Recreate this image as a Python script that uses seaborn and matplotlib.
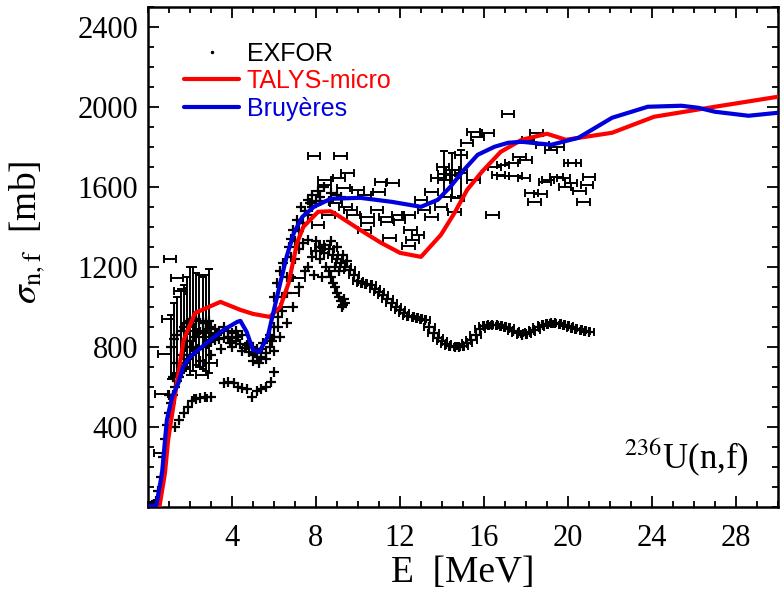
import matplotlib
matplotlib.use("Agg")
import matplotlib.pyplot as plt
from matplotlib.lines import Line2D
from matplotlib.ticker import MultipleLocator, FixedLocator
import numpy as np
import pandas as pd
import seaborn as sns

# ---------------- model curves ----------------
e_talys = [0.0, 0.55, 0.81, 0.96, 1.4, 1.7, 2.25, 3.45, 4.4, 5.0, 5.8, 6.3, 6.7, 7.1, 7.4,
           8.1, 8.7, 9.0, 10.1, 11.1, 12.0, 13.0, 13.95, 14.6, 15.2, 15.9, 16.8, 17.8,
           19.0, 19.9, 22.1, 24.1, 27.0, 30.0]
s_talys = [0, 5, 170, 335, 635, 835, 970, 1025, 985, 965, 950, 1000, 1120, 1320, 1400,
           1475, 1478, 1460, 1385, 1320, 1270, 1250, 1360, 1470, 1585, 1675, 1775, 1835,
           1865, 1835, 1870, 1950, 2000, 2050]

e_bruy = [0.0, 0.4, 0.67, 0.9, 1.15, 1.45, 1.67, 2.0, 2.8, 3.6, 4.25, 4.4, 4.7, 5.0, 5.3,
          5.7, 6.0, 6.3, 6.6, 6.95, 7.35, 7.9, 8.7, 10.1, 11.6, 13.0, 13.8, 14.4, 15.05,
          15.7, 16.5, 17.15, 17.8, 19.2, 20.5, 22.1, 23.8, 25.4, 26.2, 27.0, 28.6, 30.0]
s_bruy = [0, 10, 170, 435, 550, 620, 700, 750, 820, 885, 925, 930, 875, 785, 775,
          850, 985, 1120, 1250, 1370, 1450, 1500, 1540, 1545, 1525, 1500, 1535, 1600, 1685,
          1760, 1800, 1820, 1825, 1810, 1845, 1945, 2000, 2005, 1995, 1975, 1955, 1970]

# ---------------- EXFOR measurements ----------------
# dense low-energy cloud
e_lo1 = [0.0, 0.1, 0.2, 0.3, 0.4, 0.5, 0.6, 0.7, 0.8, 0.9, 1.0, 1.1, 1.2, 1.3, 1.4, 1.5,
         1.6, 1.7, 1.8, 1.9, 2.0, 2.2, 2.4, 2.6, 2.8, 3.0, 3.2, 3.4, 3.6, 3.8, 4.0, 4.2,
         4.4, 4.6, 4.8, 5.0, 5.2, 5.4, 5.6, 5.8, 6.0, 6.2, 6.4, 6.6, 6.8, 7.0, 7.2, 7.4, 7.6]
s_lo1 = [0, 5, 10, 15, 30, 80, 150, 250, 340, 410, 470, 520, 560, 600, 630, 650,
         680, 700, 720, 740, 760, 780, 790, 800, 815, 825, 835, 840, 845, 850, 845, 830,
         815, 795, 775, 760, 750, 750, 770, 800, 850, 900, 980, 1070, 1150, 1240, 1290, 1320, 1335]

e_lo2 = [1.0, 1.2, 1.4, 1.6, 1.8, 2.0, 2.2, 2.4, 2.6, 2.8, 3.0, 3.2, 3.4, 3.6, 3.8, 4.0,
         4.2, 4.5, 4.8, 5.0, 5.2, 5.5, 5.8, 6.0, 6.2, 6.4, 6.6, 6.8, 7.0, 7.2, 7.4, 7.6,
         7.8, 8.0, 8.2,
         2.5, 3.0, 3.5, 4.0, 4.5, 5.0, 5.3, 5.6, 6.0, 6.3, 6.6, 6.9, 7.2, 7.5,
         2.1, 2.7, 3.3, 3.9, 4.3, 4.7, 5.1, 5.45, 5.9]
s_lo2 = [560, 650, 720, 760, 800, 830, 850, 870, 880, 890, 900, 890, 880, 900, 880, 870,
         880, 860, 820, 800, 790, 820, 860, 900, 950, 1050, 1150, 1250, 1330, 1380, 1420, 1460,
         1500, 1530, 1550,
         730, 760, 790, 800, 780, 730, 720, 740, 780, 850, 920, 1000, 1100, 1180,
         800, 850, 860, 820, 850, 810, 770, 790, 830]

# lower-lying set between 1 and 6 MeV
e_low = [1.3, 1.5, 1.7, 1.9, 2.1, 2.3, 2.5, 2.7, 3.0, 3.6, 3.8, 4.1, 4.3, 4.5, 4.7,
         4.95, 5.2, 5.4, 5.6, 5.85, 6.0]
s_low = [400, 435, 470, 500, 530, 540, 545, 550, 550, 620, 625, 620, 600, 595, 590,
         550, 580, 590, 600, 625, 675]

# points with large vertical uncertainties
e_vb = [1.1, 1.25, 1.4, 1.55, 1.7, 1.85, 2.0, 2.15, 2.3, 2.45, 2.6, 2.75, 2.9]
s_vb = [800, 840, 860, 880, 900, 920, 930, 940, 940, 930, 920, 920, 930]
d_vb = [160, 180, 190, 210, 210, 230, 270, 260, 230, 230, 230, 240, 260]

# low-energy points with energy bins
e_hl = [0.57, 0.65, 0.8, 0.96, 1.05, 1.38, 1.53, 1.9, 2.2, 2.58, 3.0, 3.3, 2.5]
s_hl = [270, 565, 765, 940, 1240, 1145, 1080, 900, 880, 660, 720, 870, 545]

# main band above 8 MeV
e_hi = [8.0, 8.2, 8.4, 8.6, 8.8, 9.0, 9.2, 9.4, 9.6, 9.8, 10.0, 10.2, 10.4, 10.6, 10.8,
        11.0, 11.2, 11.4, 11.6, 11.8, 12.0, 12.2, 12.4, 12.6, 12.8, 13.0, 13.2, 13.4, 13.6,
        13.8, 14.0, 14.2, 14.4, 14.6, 14.8, 15.0, 15.2, 15.4, 15.6, 15.8, 16.0, 16.2, 16.4,
        16.6, 16.8, 17.0, 17.2, 17.4, 17.6, 17.8, 18.0, 18.2, 18.4, 18.6, 18.8, 19.0, 19.2,
        19.4, 19.6, 19.8, 20.0, 20.2, 20.4, 20.6, 20.8, 21.0]
s_hi = [1280, 1300, 1310, 1290, 1260, 1240, 1220, 1200, 1185, 1160, 1130, 1120, 1115, 1110, 1090,
        1075, 1060, 1040, 1020, 1000, 985, 970, 955, 950, 945, 940, 935, 900, 870,
        845, 830, 815, 805, 800, 800, 805, 820, 835, 860, 890, 905, 910, 910,
        910, 905, 900, 895, 880, 870, 860, 865, 875, 885, 900, 910, 915, 920,
        920, 915, 910, 905, 895, 890, 885, 880, 875]

# cloud around the 8 MeV maximum and the falling branch
e_cl = [7.6, 7.8, 8.0, 8.2, 8.4, 8.5, 8.7, 8.9, 9.0, 9.3, 9.5, 7.9, 8.3, 8.6, 9.1,
        8.7, 8.8, 8.9, 9.0, 9.1, 9.2, 9.3, 9.35, 9.25, 9.4]
s_cl = [1200, 1250, 1330, 1240, 1270, 1200, 1330, 1200, 1300, 1260, 1230, 1160, 1150, 1180, 1180,
        1150, 1120, 1100, 1070, 1050, 1030, 1010, 1040, 1000, 1020]

# points along the second-chance rise
e_rise = [6.0, 6.15, 6.3, 6.45, 6.7, 6.8, 6.9, 7.1, 7.3, 7.5, 7.6, 7.7, 7.8, 8.1, 8.2,
          8.4, 8.6, 8.7, 9.0, 9.2]
s_rise = [1050, 1120, 1180, 1220, 1300, 1340, 1385, 1435, 1500, 1480, 1535, 1520, 1560, 1580, 1530,
          1600, 1530, 1570, 1560, 1550]

# scattered higher-lying measurements
e_up = [7.9, 9.17, 9.5, 8.4, 8.4, 9.1, 9.3, 10.0, 11.1, 11.65, 11.0, 10.3, 8.95, 9.4, 9.65,
        9.8, 10.45, 10.9, 11.3, 11.9, 12.4, 11.95, 11.4, 10.45, 8.1, 12.5, 12.85, 11.5, 12.4,
        10.3, 8.6, 7.2, 6.9, 6.6,
        17.15, 15.5, 16.2, 15.7, 15.2, 14.9, 14.05, 14.5, 13.8, 14.1, 15.5, 16.7, 16.5, 16.9,
        13.5, 13.0, 14.75, 13.95, 13.15, 13.5, 14.6, 16.4, 12.6,
        18.5, 18.1, 18.8, 19.2, 19.5, 17.7, 18.0, 17.3, 20.1, 20.3, 16.9, 17.5, 17.9, 19.05,
        19.45, 19.8, 20.15, 21.0, 19.85, 20.55, 20.9, 18.25, 18.7, 18.4, 20.75, 18.9]
s_up = [1755, 1755, 1670, 1635, 1610, 1645, 1595, 1585, 1625, 1620, 1575, 1560, 1520, 1500, 1485,
        1460, 1450, 1485, 1450, 1460, 1460, 1435, 1425, 1420, 1410, 1385, 1360, 1345, 1305,
        1385, 1460, 1145, 1070, 1000,
        1965, 1875, 1870, 1850, 1820, 1760, 1700, 1685, 1645, 1635, 1635, 1660, 1700, 1710,
        1575, 1535, 1545, 1500, 1485, 1450, 1475, 1460, 1335,
        1870, 1835, 1810, 1785, 1800, 1750, 1735, 1720, 1720, 1720, 1655, 1655, 1645, 1635,
        1650, 1645, 1620, 1650, 1600, 1580, 1610, 1570, 1565, 1525, 1525, 1625]

# three points near 14 MeV with vertical uncertainties
e_upv = [14.1, 14.5, 14.9]
s_upv = [1665, 1660, 1670]
d_upv = [115, 110, 115]

# ---------------- figure ----------------
sns.set_theme(style="ticks")
plt.rcParams["font.family"] = ["Liberation Serif", "DejaVu Serif"]
plt.rcParams["mathtext.fontset"] = "stix"
plt.rcParams["text.color"] = "black"
plt.rcParams["axes.labelcolor"] = "black"
plt.rcParams["xtick.color"] = "black"
plt.rcParams["ytick.color"] = "black"

fig = plt.figure(figsize=(7.8, 6.08), dpi=100)
ax = fig.add_axes([0.1897, 0.1661, 0.8077, 0.8229])

blk = "black"
mk = dict(marker="+", s=50, color=blk, linewidth=1.6, legend=False, zorder=3)
eb = dict(fmt="none", ecolor=blk, elinewidth=1.4, capsize=2.8, capthick=1.4, zorder=3)

for ee, ss in [(e_lo1, s_lo1), (e_lo2, s_lo2), (e_low, s_low), (e_cl, s_cl), (e_rise, s_rise)]:
    sns.scatterplot(x=ee, y=ss, ax=ax, **mk)

ax.errorbar(e_vb, s_vb, yerr=d_vb, **eb)
sns.scatterplot(x=e_vb, y=s_vb, ax=ax, **mk)

ax.errorbar(e_hl, s_hl, xerr=0.3, **eb)
ax.errorbar(e_hi, s_hi, xerr=0.25, **eb)
sns.scatterplot(x=e_hi, y=s_hi, ax=ax, **mk)
ax.errorbar(e_up, s_up, xerr=0.3, **eb)
ax.errorbar(e_upv, s_upv, yerr=d_upv, xerr=0.3, **eb)

curves = pd.concat([
    pd.DataFrame({"E": e_talys, "sigma": s_talys, "model": "TALYS-micro"}),
    pd.DataFrame({"E": e_bruy, "sigma": s_bruy, "model": "Bruyères"}),
])
sns.lineplot(data=curves, x="E", y="sigma", hue="model", sort=False, ax=ax,
             palette={"TALYS-micro": "#ff0000", "Bruyères": "#0000dd"},
             linewidth=3.0, legend=False, zorder=4)

ax.set_xlim(0, 30)
ax.set_ylim(0, 2500)
ax.xaxis.set_major_locator(FixedLocator([4, 8, 12, 16, 20, 24, 28]))
ax.xaxis.set_minor_locator(MultipleLocator(1))
ax.yaxis.set_major_locator(FixedLocator([400, 800, 1200, 1600, 2000, 2400]))
ax.yaxis.set_minor_locator(MultipleLocator(100))
ax.tick_params(which="both", direction="in", top=True, right=True, colors=blk,
               labelcolor=blk, width=1.3)
ax.tick_params(which="major", length=8, labelsize=22)
ax.tick_params(which="minor", length=4.5)
ax.tick_params(axis="x", which="major", pad=12)
ax.tick_params(axis="y", which="major", pad=7)
for sp in ax.spines.values():
    sp.set_linewidth(1.8)
    sp.set_color(blk)

ax.set_xlabel("E  [MeV]", fontsize=27, labelpad=2, color=blk)
ax.set_ylabel(r"$\sigma_{\rm n,f}$  [mb]", fontsize=27, labelpad=6, color=blk)
ax.yaxis.set_label_coords(-0.16, 0.55)

ax.text(28.6, 195, r"$^{236}$U(n,f)", fontsize=25, ha="right", va="baseline", color=blk)

handles = [
    Line2D([], [], ls="none", marker=".", ms=3, color=blk),
    Line2D([], [], color="#ff0000", lw=3),
    Line2D([], [], color="#0000dd", lw=3),
]
leg = ax.legend(handles, ["EXFOR", "TALYS-micro", "Bruyères"], loc="upper left",
                bbox_to_anchor=(0.022, 0.975), frameon=False, handlelength=2.2,
                handletextpad=0.3, labelspacing=0.14,
                prop={"family": "Liberation Sans", "size": 18})
for t, c in zip(leg.get_texts(), [blk, "#ff0000", "#0000dd"]):
    t.set_color(c)

fig.savefig("out.png", dpi=100)
